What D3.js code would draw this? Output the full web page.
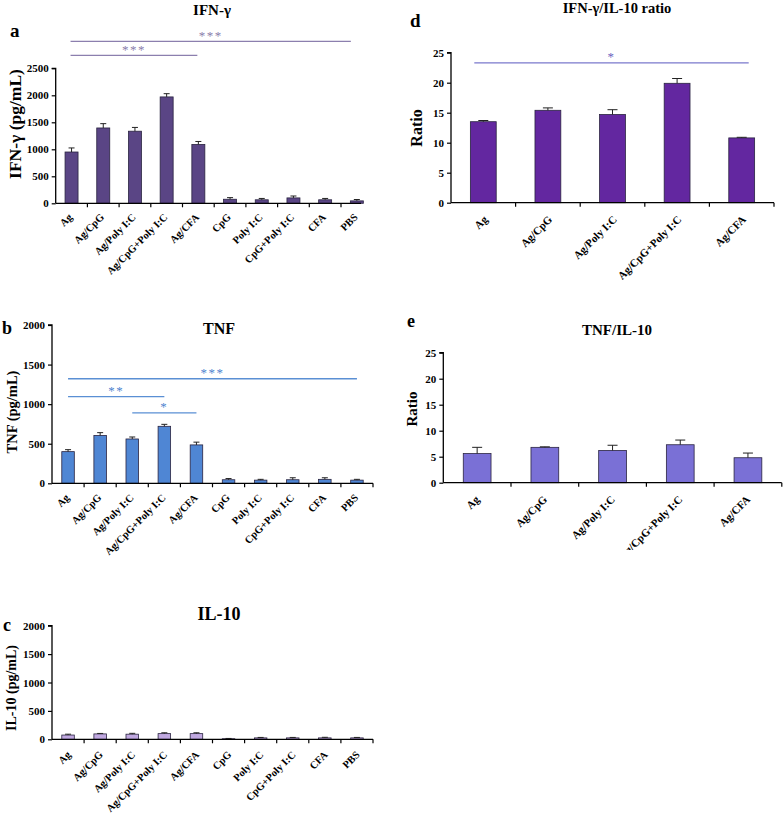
<!DOCTYPE html>
<html><head><meta charset="utf-8">
<script src="https://cdn.jsdelivr.net/npm/d3@7"></script>
<style>body{margin:0;background:#fff}svg{display:block}text{font-family:"Liberation Serif","Times New Roman",serif}</style>
</head><body>
<script>
// ---------- data ----------
const categories10 = ["Ag","Ag/CpG","Ag/Poly I:C","Ag/CpG+Poly I:C","Ag/CFA","CpG","Poly I:C","CpG+Poly I:C","CFA","PBS"];
const categories5 = ["Ag","Ag/CpG","Ag/Poly I:C","Ag/CpG+Poly I:C","Ag/CFA"];

const ifnValues = [950,1395,1335,1970,1090,75,65,100,65,45];
const ifnErrors = [75,80,70,60,55,30,25,35,25,25];
const tnfValues = [400,605,560,720,485,45,40,45,50,40];
const tnfErrors = [25,35,25,25,35,15,10,25,20,10];
const il10Values = [75,95,90,100,100,10,25,25,25,25];
const il10Errors = [15,8,15,15,15,5,8,8,10,8];
const ifnRatioValues = [13.5,15.4,14.7,19.9,10.8];
const ifnRatioErrors = [0.2,0.4,0.8,0.8,0.1];
const tnfRatioValues = [5.6,6.8,6.2,7.3,4.8];
const tnfRatioErrors = [1.2,0.1,1.0,0.9,0.9];

const ticksCytokineA = [0,500,1000,1500,2000,2500];
const ticksCytokine = [0,500,1000,1500,2000];
const ticksRatio = [0,5,10,15,20,25];

const sigA = [{from:0,to:9,at:3000,label:"***"},{from:0,to:4,at:2740,label:"***"}];
const sigB = [{from:0,to:9,at:1321,label:"***"},{from:0,to:3,at:1094,label:"**"},{from:2,to:4,at:891,label:"*"}];
const sigD = [{from:0,to:4,at:23.3,label:"*"}];

// ---------- drawing ----------
const svg = d3.select("body").append("svg").attr("width",784).attr("height",822);
const defs = svg.append("defs");
let clipId = 0;

function panel(o){
  const id = "clip"+(clipId++);
  defs.append("clipPath").attr("id",id).append("rect")
    .attr("x",o.clip[0]).attr("y",o.clip[1]).attr("width",o.clip[2]).attr("height",o.clip[3]);
  const g = svg.append("g").attr("clip-path",`url(#${id})`);
  const x = d3.scaleBand().domain(o.cats).range([o.x0, o.x0 + o.step*o.cats.length]).padding(0);
  const y = d3.scaleLinear().domain([0, o.ymax]).range([o.yb, o.yt]);
  const bw = x.bandwidth()*o.barFrac;
  const data = o.cats.map((c,i)=>({c, v:o.vals[i], e:o.errs[i]}));

  // bars
  g.selectAll("rect.bar").data(data).join("rect")
    .attr("x", d=>x(d.c)+x.bandwidth()/2-bw/2)
    .attr("y", d=>y(d.v))
    .attr("width", bw)
    .attr("height", d=>y(0)-y(d.v))
    .attr("fill", o.color).attr("stroke","#2a2440").attr("stroke-width",0.8);
  // error bars
  const cap = o.cap;
  g.selectAll("path.err").data(data).join("path")
    .attr("d", d=>{const cx=x(d.c)+x.bandwidth()/2, y1=y(d.v), y2=y(d.v+d.e);
      return `M${cx},${y1}V${y2}M${cx-cap/2},${y2}H${cx+cap/2}`;})
    .attr("stroke","#222").attr("stroke-width",1).attr("fill","none");

  // y axis
  const ya = d3.axisLeft(y).tickValues(o.ticks).tickSize(4).tickPadding(3).tickFormat(d3.format("d"));
  const yg = g.append("g").attr("transform",`translate(${o.x0},0)`).call(ya);
  yg.select(".domain").attr("stroke","#000").attr("stroke-width",1.3).attr("d",`M-4,${o.yt}H0V${o.yb}`);
  yg.selectAll(".tick line").attr("stroke","#000").attr("stroke-width",1.2);
  yg.selectAll(".tick text").attr("font-size",o.tickFs).attr("font-weight","bold").attr("fill","#000")
    .attr("font-family","Liberation Serif, serif");

  // x axis
  const xa = d3.axisBottom(x).tickSize(0).tickFormat("");
  const xg = g.append("g").attr("transform",`translate(0,${o.yb})`).call(xa);
  xg.select(".domain").attr("stroke","#000").attr("stroke-width",1.3).attr("d",`M${o.x0},0H${o.axisEnd}`);
  const bounds = o.cats.slice(1).map(c=>x(c));
  if (o.axisEnd >= o.x0 + o.step*o.cats.length - 1) bounds.push(o.x0 + o.step*o.cats.length);
  xg.selectAll("line.bt").data(bounds).join("line").attr("class","bt")
    .attr("x1",d=>d).attr("x2",d=>d).attr("y1",0).attr("y2",4).attr("stroke","#000").attr("stroke-width",1.2);
  xg.selectAll("text.xl").data(o.cats).join("text").attr("class","xl")
    .attr("transform",c=>`translate(${x(c)+x.bandwidth()/2+o.lblDx},${o.lblDy}) rotate(-45)`)
    .attr("text-anchor","end").attr("font-size",o.xFs).attr("font-weight","bold").attr("fill","#000")
    .text(c=>c);

  // significance
  (o.sig||[]).forEach(s=>{
    const x1 = x(o.cats[s.from])+x.bandwidth()/2 + (s.dx1||0);
    const x2 = x(o.cats[s.to])+x.bandwidth()/2 + (s.dx2||0);
    const yy = y(s.at);
    g.append("line").attr("x1",x1).attr("x2",x2).attr("y1",yy).attr("y2",yy)
      .attr("stroke",o.sigColor).attr("stroke-width",1.3);
    g.append("text").attr("x",(x1+x2)/2).attr("y",yy-1.5).attr("text-anchor","middle")
      .attr("font-size",13).attr("fill",o.sigStar).attr("font-family","DejaVu Sans, sans-serif")
      .attr("letter-spacing",1.5).text(s.label);
  });

  // title, letter, y label
  g.append("text").attr("x",o.title[0]).attr("y",o.title[1]).attr("text-anchor","middle")
    .attr("font-size",o.titleFs).attr("font-weight","bold").text(o.title[2]);
  g.append("text").attr("x",o.letter[0]).attr("y",o.letter[1])
    .attr("font-size",o.letterFs).attr("font-weight","bold").text(o.letter[2]);
  g.append("text").attr("transform",`translate(${o.ylab[0]},${o.ylab[1]}) rotate(-90)`)
    .attr("text-anchor","middle").attr("dominant-baseline","central")
    .attr("font-size",o.ylabFs).attr("font-weight","bold").text(o.ylab[2]);
}

panel({cats:categories10, vals:ifnValues, errs:ifnErrors, color:"#5a4585", ymax:2500, ticks:ticksCytokineA,
  x0:55.7, step:31.7, yt:68.3, yb:203.3, axisEnd:361, barFrac:0.41, cap:6, tickFs:11, xFs:10.5, lblDx:1.5, lblDy:14.5,
  sig:sigA.map((s,i)=>i===0?{...s,dx1:-1,dx2:-6}:{...s,dx1:-1,dx2:-1}), sigColor:"#8c7fae", sigStar:"#8a7dab",
  title:[212,15,"IFN-γ"], titleFs:15, letter:[10,37,"a"], letterFs:19, ylab:[15,124,"IFN-γ (pg/mL)"], ylabFs:17.5,
  clip:[0,0,392,281]});

panel({cats:categories10, vals:tnfValues, errs:tnfErrors, color:"#4f86d4", ymax:2000, ticks:ticksCytokine,
  x0:52, step:32.1, yt:325, yb:483.3, axisEnd:373, barFrac:0.39, cap:6, tickFs:11, xFs:10.5, lblDx:2, lblDy:15,
  sig:sigB, sigColor:"#5a8fd4", sigStar:"#4d84cf",
  title:[219,334,"TNF"], titleFs:16, letter:[2,334,"b"], letterFs:18, ylab:[12,412,"TNF (pg/mL)"], ylabFs:14.5,
  clip:[0,283,392,276]});

panel({cats:categories10, vals:il10Values, errs:il10Errors, color:"#c0a8e0", ymax:2000, ticks:ticksCytokine,
  x0:52, step:32.1, yt:625.7, yb:739.3, axisEnd:373, barFrac:0.39, cap:6, tickFs:11, xFs:10.5, lblDx:3.5, lblDy:16,
  title:[219,620,"IL-10"], titleFs:18, letter:[3,631,"c"], letterFs:18, ylab:[11,688,"IL-10 (pg/mL)"], ylabFs:14,
  clip:[0,560,392,262]});

panel({cats:categories5, vals:ifnRatioValues, errs:ifnRatioErrors, color:"#6327a0", ymax:25, ticks:ticksRatio,
  x0:451, step:64.6, yt:52.7, yb:202.7, axisEnd:774, barFrac:0.4, cap:10, tickFs:11, xFs:11, lblDx:5, lblDy:17.5,
  sig:sigD.map(s=>({...s,dx1:-9,dx2:7})), sigColor:"#7a78cc", sigStar:"#6a63c0",
  title:[617,13,"IFN-γ/IL-10 ratio"], titleFs:14.5, letter:[410,27,"d"], letterFs:19, ylab:[416,128,"Ratio"], ylabFs:16,
  clip:[392,0,392,280]});

panel({cats:categories5, vals:tnfRatioValues, errs:tnfRatioErrors, color:"#7a70d6", ymax:25, ticks:ticksRatio,
  x0:443.3, step:67.7, yt:352.7, yb:482.7, axisEnd:781.7, barFrac:0.41, cap:10, tickFs:11, xFs:11, lblDx:3, lblDy:17.5,
  title:[617,335,"TNF/IL-10"], titleFs:15, letter:[407,327,"e"], letterFs:18, ylab:[412,409,"Ratio"], ylabFs:15,
  clip:[392,283,392,267]});
</script>
</body></html>
